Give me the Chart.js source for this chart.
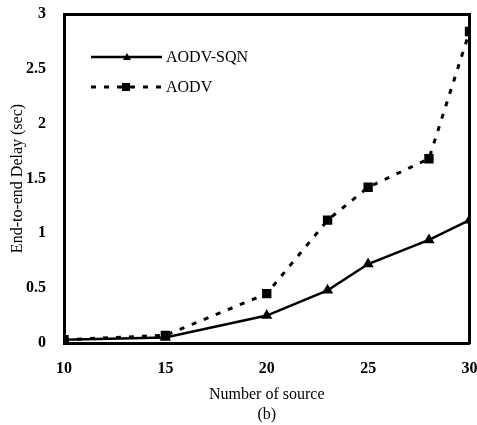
<!DOCTYPE html>
<html>
<head>
<meta charset="utf-8">
<script src="https://cdn.jsdelivr.net/npm/chart.js@4.4.1/dist/chart.umd.min.js"></script>
<style>
  html, body { margin: 0; padding: 0; background: #fff; }
  .chart { width: 477px; height: 425px; }
</style>
</head>
<body>
<div class="chart">
  <canvas id="myChart" width="477" height="425"></canvas>
</div>
<script>
  // data
  const sources = [10, 15, 20, 23, 25, 28, 30];
  const aodvSqn = [0.03, 0.05, 0.25, 0.48, 0.72, 0.94, 1.12];
  const aodv = [0.03, 0.07, 0.45, 1.12, 1.42, 1.68, 2.84];
  const xTicks = [10, 15, 20, 25, 30];
  const yTicks = [0, 0.5, 1, 1.5, 2, 2.5, 3];

  const serif = "'Liberation Serif', 'DejaVu Serif', serif";

  function toPoints(ys) {
    return sources.map((x, i) => ({ x: x, y: ys[i] }));
  }

  // legend drawn inside the plot, top left
  const insideLegend = {
    id: 'insideLegend',
    afterDraw(chart) {
      const c = chart.ctx;
      const rows = [{ ds: chart.data.datasets[0], y: 57 }, { ds: chart.data.datasets[1], y: 87 }];
      c.save();
      rows.forEach(r => {
        c.strokeStyle = '#000';
        c.lineWidth = r.ds.borderWidth;
        c.setLineDash(r.ds.borderDash || []);
        c.beginPath();
        c.moveTo(91, r.y);
        c.lineTo(162, r.y);
        c.stroke();
        c.setLineDash([]);
        c.fillStyle = '#000';
        if (r.ds.pointStyle === 'triangle') {
          c.beginPath();
          c.moveTo(127, r.y - 4);
          c.lineTo(131, r.y + 3);
          c.lineTo(123, r.y + 3);
          c.closePath();
          c.fill();
        } else {
          c.fillRect(122, r.y - 4, 8, 8);
        }
        c.font = '16px ' + serif;
        c.textBaseline = 'middle';
        c.fillText(r.ds.label, 166, r.y + 1);
      });
      c.restore();
    }
  };

  const ctx = document.getElementById('myChart').getContext('2d');
  const myChart = new Chart(ctx, {
    type: 'line',
    data: {
      datasets: [
        {
          label: 'AODV-SQN',
          data: toPoints(aodvSqn),
          borderColor: '#000',
          backgroundColor: '#000',
          borderWidth: 2.5,
          pointStyle: 'triangle',
          pointRadius: 4,
          tension: 0
        },
        {
          label: 'AODV',
          data: toPoints(aodv),
          borderColor: '#000',
          backgroundColor: '#000',
          borderWidth: 3,
          borderDash: [5, 8],
          pointStyle: 'rect',
          pointRadius: 4.5,
          tension: 0
        }
      ]
    },
    options: {
      responsive: false,
      animation: false,
      layout: { padding: { left: 0, right: 6, top: 14, bottom: 0 } },
      plugins: { legend: { display: false }, tooltip: { enabled: false } },
      scales: {
        x: {
          type: 'linear',
          min: 10,
          max: 30,
          afterBuildTicks: s => { s.ticks = xTicks.map(v => ({ value: v })); },
          afterFit: s => { s.height = 82; s.paddingRight = 0; s.paddingLeft = 0; },
          grid: { display: false },
          border: { color: '#000', width: 3 },
          ticks: { color: '#000', padding: 8, font: { family: serif, size: 16, weight: 'bold' } },
          title: {
            display: true,
            text: ['Number of source', '(b)'],
            color: '#000',
            padding: { top: 17, bottom: 0 },
            font: { family: serif, size: 16, lineHeight: 1.25 }
          }
        },
        x2: {
          type: 'linear', position: 'top', min: 10, max: 30,
          grid: { display: false }, ticks: { display: false },
          border: { color: '#000', width: 3 },
          afterFit: s => { s.height = 0; s.paddingRight = 0; s.paddingLeft = 0; }
        },
        y: {
          min: 0,
          max: 3,
          afterBuildTicks: s => { s.ticks = yTicks.map(v => ({ value: v })); },
          afterFit: s => { s.width = 64; s.paddingTop = 0; s.paddingBottom = 0; },
          grid: { display: false },
          border: { color: '#000', width: 3 },
          ticks: {
            color: '#000',
            padding: 10,
            font: { family: serif, size: 16, weight: 'bold' },
            callback: v => String(v)
          },
          title: {
            display: true,
            text: 'End-to-end Delay (sec)',
            color: '#000',
            padding: { top: 8, bottom: 0 },
            font: { family: serif, size: 16 }
          }
        },
        y2: {
          position: 'right', min: 0, max: 3,
          grid: { display: false }, ticks: { display: false },
          border: { color: '#000', width: 3 },
          afterFit: s => { s.width = 0; }
        }
      }
    },
    plugins: [insideLegend]
  });
</script>
</body>
</html>
